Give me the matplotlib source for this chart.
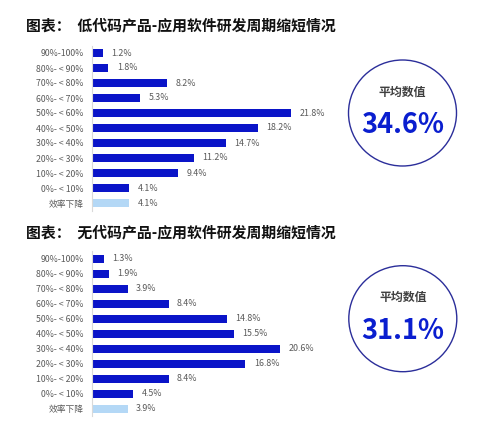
import numpy as np
import matplotlib.pyplot as plt
from matplotlib.patches import Ellipse

plt.rcParams['font.family'] = ['Noto Sans CJK SC', 'DejaVu Sans']

categories = ['90%-100%', '80%- < 90%', '70%- < 80%', '60%- < 70%', '50%- < 60%',
              '40%- < 50%', '30%- < 40%', '20%- < 30%', '10%- < 20%', '0%- < 10%', '效率下降']
low_code = [1.2, 1.8, 8.2, 5.3, 21.8, 18.2, 14.7, 11.2, 9.4, 4.1, 4.1]
no_code = [1.3, 1.9, 3.9, 8.4, 14.8, 15.5, 20.6, 16.8, 8.4, 4.5, 3.9]
titles = ['图表：  低代码产品-应用软件研发周期缩短情况',
          '图表：  无代码产品-应用软件研发周期缩短情况']
averages = ['34.6%', '31.1%']

W, H = 499, 428
fig = plt.figure(figsize=(W / 100, H / 100), dpi=100)

blue = '#0a14c8'
light = '#b4d8f6'
grey = '#5a5a5a'

# (title y, top of rows, circle centre) in pixels from the top
layout = [(25, 45.5, (402.5, 113)), (232, 251.2, (402.8, 318.7))]

for values, title, avg, (ty, top, (cx, cy)) in zip([low_code, no_code], titles, averages, layout):
    fig.text(26 / W, 1 - ty / H, title, fontsize=10.7, fontweight='bold',
             color='#111111', va='center', ha='left')

    ax = fig.add_axes([92 / W, 1 - (top + 165) / H, 240 / W, 165 / H])
    y = np.arange(len(categories))
    colors = [blue] * (len(values) - 1) + [light]
    ax.barh(y, values, height=0.56, color=colors)
    ax.set_xlim(0, 240 / 9.13)
    ax.set_ylim(len(categories) - 0.5, -0.5)
    ax.set_yticks(y)
    ax.set_yticklabels(categories, fontsize=6.3, color=grey)
    ax.tick_params(axis='y', length=0, pad=6)
    ax.set_xticks([])
    for s in ['top', 'right', 'bottom']:
        ax.spines[s].set_visible(False)
    ax.spines['left'].set_color('#d9d9d9')
    ax.spines['left'].set_linewidth(0.8)
    for yi, v in zip(y, values):
        ax.annotate(f'{v}%', (v, yi), xytext=(6, 0), textcoords='offset points',
                    va='center', ha='left', fontsize=6.4, color=grey)

    circ = Ellipse((cx / W, 1 - cy / H), 108 / W, 106 / H, transform=fig.transFigure,
                   facecolor='none', edgecolor='#2b2e9a', linewidth=1.0)
    fig.add_artist(circ)
    fig.text(cx / W, 1 - (cy - 21) / H, '平均数值', fontsize=8.6, fontweight='bold',
             color='#404040', ha='center', va='center')
    fig.text(cx / W, 1 - (cy + 12) / H, avg, fontsize=19.5, fontweight='bold',
             color='#0a1ecf', ha='center', va='center')

fig.savefig('out.png', dpi=100)
